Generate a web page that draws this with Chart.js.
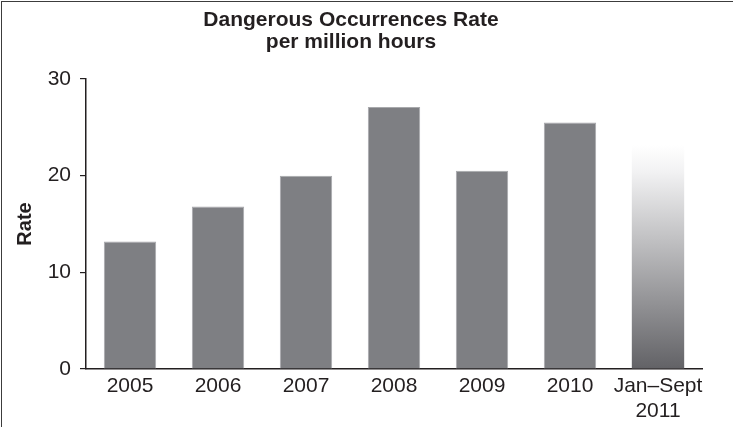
<!DOCTYPE html>
<html>
<head>
<meta charset="utf-8">
<script src="https://cdn.jsdelivr.net/npm/chart.js@4/dist/chart.umd.min.js"></script>
<style>
  html, body { margin: 0; padding: 0; background: #fff; }
  #wrap { position: relative; width: 733px; height: 427px; overflow: hidden; }
  #frame { position: absolute; left: 1px; top: 1px; right: -5px; bottom: -5px;
           border-top: 1.5px solid #3c3c3c; border-left: 1.5px solid #3c3c3c; pointer-events: none; }
  canvas { position: absolute; left: 0; top: 0; }
</style>
</head>
<body>
<div id="wrap">
  <canvas id="c" width="733" height="427"></canvas>
  <div id="frame"></div>
</div>
<script>
const titleLines = ['Dangerous Occurrences Rate', 'per million hours'];
const categories = ['2005', '2006', '2007', '2008', '2009', '2010', ['Jan–Sept', '2011']];
const rates = [13.2, 16.8, 20.0, 27.1, 20.5, 25.5, 23.2];
const yTicks = [0, 10, 20, 30];
const yAxisTitle = 'Rate';

const textColor = '#231f20';
const barColor = '#7e7f83';
const barEdge = '#a8a9ac';
const FONT = "'Liberation Sans', Arial, Helvetica, sans-serif";

function barFill(ctx) {
  const chart = ctx.chart;
  const i = ctx.dataIndex;
  if (i !== rates.length - 1 || !chart.chartArea) return barColor;
  const y = chart.scales.y;
  const top = y.getPixelForValue(rates[i]);
  const bottom = y.getPixelForValue(0);
  const g = chart.ctx.createLinearGradient(0, top, 0, bottom);
  g.addColorStop(0, '#ffffff');
  g.addColorStop(0.12, '#f2f2f3');
  g.addColorStop(1, '#626266');
  return g;
}

new Chart(document.getElementById('c'), {
  type: 'bar',
  data: {
    labels: categories,
    datasets: [{
      data: rates,
      backgroundColor: barFill,
      borderColor: barEdge,
      borderWidth: rates.map((v, i) => i === rates.length - 1 ? 0 : 1),
      categoryPercentage: 1,
      barPercentage: 0.595
    }]
  },
  options: {
    responsive: false,
    animation: false,
    devicePixelRatio: 1,
    layout: { padding: { top: 0, left: 0, right: 31, bottom: 0 } },
    plugins: {
      legend: { display: false },
      tooltip: { enabled: false },
      title: {
        display: true,
        text: titleLines,
        color: textColor,
        font: { family: FONT, size: 21, weight: 'bold', lineHeight: 22 / 21 },
        padding: { top: 9, bottom: 26 }
      }
    },
    scales: {
      x: {
        grid: { display: false, drawTicks: false },
        border: { display: true, color: textColor, width: 1.5 },
        ticks: {
          color: textColor,
          font: { family: FONT, size: 21, lineHeight: 25 / 21 },
          padding: 5,
          maxRotation: 0,
          autoSkip: false
        },
        afterFit: s => { s.height = 58; }
      },
      y: {
        min: 0,
        max: 30,
        afterBuildTicks: s => { s.ticks = yTicks.map(v => ({ value: v })); },
        grid: { display: true, drawOnChartArea: false, drawTicks: true, tickLength: 6, color: textColor, lineWidth: 1.2 },
        border: { display: true, color: textColor, width: 1.5 },
        ticks: {
          color: textColor,
          font: { family: FONT, size: 21 },
          padding: 9
        },
        title: {
          display: true,
          text: yAxisTitle,
          color: textColor,
          font: { family: FONT, size: 20, weight: 'bold', lineHeight: 1 },
          padding: { top: 15, bottom: 0 }
        },
        afterFit: s => { s.width = 86; }
      }
    }
  }
});
</script>
</body>
</html>
